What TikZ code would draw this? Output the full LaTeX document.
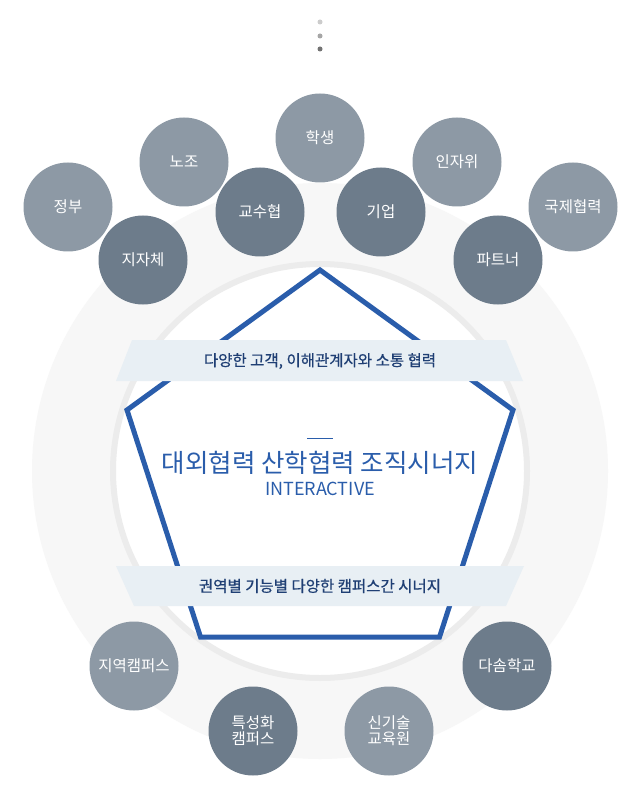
\documentclass[tikz,border=0pt]{standalone}
\usepackage{fontspec}
\setmainfont{Noto Sans CJK KR}
\newfontfamily\semib[FakeBold=0.6]{Noto Sans CJK KR}
\begin{document}
\begin{tikzpicture}[x=1pt,y=-1pt,
  light/.style={circle,fill=lightc,draw=none,minimum size=89pt,inner sep=0pt,text=white,font=\fontsize{15.5}{18}\selectfont,align=center},
  dark/.style={light,fill=darkc},
  ribbontext/.style={text=navy,font=\semib\fontsize{15.5}{18}\selectfont},
  dotn/.style={circle,minimum size=5pt,inner sep=0pt,draw=none}]
\definecolor{lightc}{HTML}{8D99A5}
\definecolor{darkc}{HTML}{6D7C8B}
\definecolor{navy}{HTML}{1F3F74}
\definecolor{blueline}{HTML}{2A5DAB}
\definecolor{ribbon}{HTML}{E8EFF4}
\definecolor{bgdisk}{HTML}{F7F7F7}
\definecolor{ringc}{HTML}{ECECEC}
\useasboundingbox (0,0) rectangle (640,799);
\fill[white] (0,0) rectangle (640,799);
% background disks
\fill[bgdisk] (320,471) circle (288);
\fill[white] (320,471) circle (207);
\draw[ringc,line width=6pt] (320,471) circle (207);
% dots
\node[dotn,fill=black!20] (d1) at (320,22) {};
\node[dotn,fill=black!35] (d2) at (320,36) {};
\node[dotn,fill=black!55] (d3) at (320,49) {};
% pentagon
\coordinate (p1) at (320,270);
\coordinate (p2) at (513,410);
\coordinate (p3) at (439.5,637);
\coordinate (p4) at (200.5,637);
\coordinate (p5) at (127,410);
\draw[blueline,line width=5pt,line join=miter] (p1) -- (p2) -- (p3) -- (p4) -- (p5) -- cycle;
% ribbons
\fill[ribbon] (132,340) -- (506,340) -- (523,381) -- (116,381) -- cycle;
\fill[ribbon] (116,566) -- (524,566) -- (506,606) -- (134,606) -- cycle;
\node[ribbontext] (r1) at (320,361) {다양한 고객, 이해관계자와 소통 협력};
\node[ribbontext] (r2) at (320,586) {권역별 기능별 다양한 캠퍼스간 시너지};
% center
\draw[blueline,line width=1pt] (307,438) -- (333,438);
\node[text=blueline,font=\fontsize{25.5}{29}\selectfont] (title) at (320,463) {대외협력 산학협력 조직시너지};
\node[text=blueline,font=\fontsize{18}{21}\selectfont] (sub) at (320,489) {INTERACTIVE};
% top circles
\node[light] (c1) at (68,207) {정부};
\node[light] (c3) at (184,162) {노조};
\node[light] (c5) at (320,138) {학생};
\node[light] (c7) at (457,162) {인자위};
\node[light] (c9) at (573,207) {국제협력};
\node[dark] (c2) at (143,260) {지자체};
\node[dark] (c4) at (260,212) {교수협};
\node[dark] (c6) at (381,212) {기업};
\node[dark] (c8) at (498,260) {파트너};
% bottom circles
\node[light] (b1) at (134,666) {지역캠퍼스};
\node[dark] (b2) at (253,731) {특성화\\[-2pt]캠퍼스};
\node[light] (b3) at (389,731) {신기술\\[-2pt]교육원};
\node[dark] (b4) at (507,666) {다솜학교};
\end{tikzpicture}
\end{document}
